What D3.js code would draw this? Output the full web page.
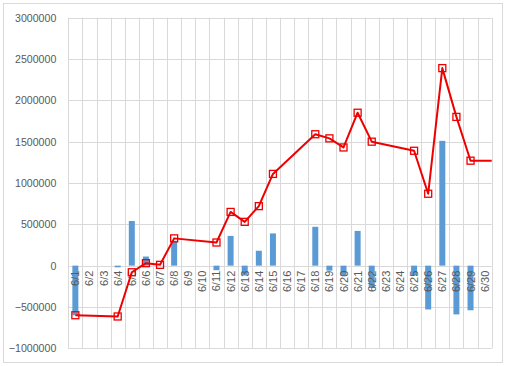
<!DOCTYPE html>
<html>
<head>
<meta charset="utf-8">
<script src="https://cdn.jsdelivr.net/npm/d3@7"></script>
<style>
  html, body { margin: 0; padding: 0; background: #fff; }
  svg { display: block; }
</style>
</head>
<body>
<svg id="chart" width="510" height="366"></svg>
<script>
const categories = ["6/1","6/2","6/3","6/4","6/5","6/6","6/7","6/8","6/9","6/10",
  "6/11","6/12","6/13","6/14","6/15","6/16","6/17","6/18","6/19","6/20",
  "6/21","6/22","6/23","6/24","6/25","6/26","6/27","6/28","6/29","6/30"];
const barValues = [-600000,0,0,-20000,540000,110000,0,300000,0,0,
  -55000,360000,-120000,180000,390000,0,0,470000,-60000,-120000,
  420000,-270000,0,0,-120000,-530000,1510000,-590000,-540000,0];
const lineValues = [-600000,null,null,-615000,-80000,30000,10000,330000,null,null,
  280000,650000,530000,720000,1110000,null,null,1590000,1540000,1430000,
  1850000,1500000,null,null,1390000,870000,2390000,1800000,1270000,null];
const yTicks = [-1000000,-500000,0,500000,1000000,1500000,2000000,2500000,3000000];

(function () {
const svg = d3.select("#chart");
const pLeft = 68.3, pRight = 491.7, pTop = 17.7, pBottom = 348.3;

// outer border
svg.append("rect").attr("x", 3.5).attr("y", 3.5).attr("width", 499).attr("height", 359)
  .attr("fill", "#fff").attr("stroke", "#d9d9d9").attr("stroke-width", 1);

const x = d3.scaleBand().domain(categories).range([pLeft, pRight]).padding(0);
const y = d3.scaleLinear().domain([-1000000, 3000000]).range([pBottom, pTop]);

// horizontal gridlines
svg.append("g").selectAll("line").data(yTicks).join("line")
  .attr("x1", pLeft).attr("x2", pRight)
  .attr("y1", d => Math.round(y(d)) + 0.5).attr("y2", d => Math.round(y(d)) + 0.5)
  .attr("stroke", "#d9d9d9").attr("stroke-width", 1);

// vertical gridlines at category boundaries
const bounds = categories.map(c => x(c)).concat([pRight]);
svg.append("g").selectAll("line").data(bounds).join("line")
  .attr("x1", d => Math.round(d) + 0.5).attr("x2", d => Math.round(d) + 0.5)
  .attr("y1", y(3000000)).attr("y2", y(-1000000))
  .attr("stroke", "#d9d9d9").attr("stroke-width", 1);

// y axis labels
const yAxis = d3.axisLeft(y).tickValues(yTicks).tickSize(0).tickPadding(12).tickFormat(d3.format("d"));
const ya = svg.append("g").attr("transform", `translate(${pLeft},0)`).call(yAxis);
ya.select(".domain").remove();
ya.selectAll("text").attr("fill", "#595959").style("font-family", "Liberation Sans, Arial, sans-serif").style("font-size", "10.6px");

// bars
const bw = 6;
svg.append("g").selectAll("rect").data(barValues).join("rect")
  .attr("x", (d, i) => x(categories[i]) + x.bandwidth() / 2 - bw / 2)
  .attr("width", bw)
  .attr("y", d => y(Math.max(0, d)))
  .attr("height", d => Math.abs(y(d) - y(0)))
  .attr("fill", "#5b9bd5");

// x axis labels (rotated)
svg.append("g").selectAll("text").data(categories).join("text")
  .attr("transform", d => `translate(${x(d) + x.bandwidth() / 2 + 4},${y(0) + 5}) rotate(-90)`)
  .attr("text-anchor", "end")
  .attr("fill", "#595959")
  .style("font-family", "Liberation Sans, Arial, sans-serif")
  .style("font-size", "11px")
  .text(d => d);

// line
const pts = lineValues.map((v, i) => ({c: categories[i], v})).filter(d => d.v !== null);
const linePts = pts.map(d => [x(d.c) + x.bandwidth() / 2, y(d.v)]);
const last = pts[pts.length - 1];
linePts.push([x.range()[1], y(last.v)]);
svg.append("path").datum(linePts)
  .attr("d", d3.line())
  .attr("fill", "none").attr("stroke", "#ee0000").attr("stroke-width", 2).attr("stroke-linejoin", "round");

// markers
const ms = 7;
svg.append("g").selectAll("rect").data(pts).join("rect")
  .attr("x", d => x(d.c) + x.bandwidth() / 2 - ms / 2)
  .attr("y", d => y(d.v) - ms / 2)
  .attr("width", ms).attr("height", ms)
  .attr("fill", "none").attr("stroke", "#ee0000").attr("stroke-width", 1.3);
})();
</script>
</body>
</html>
